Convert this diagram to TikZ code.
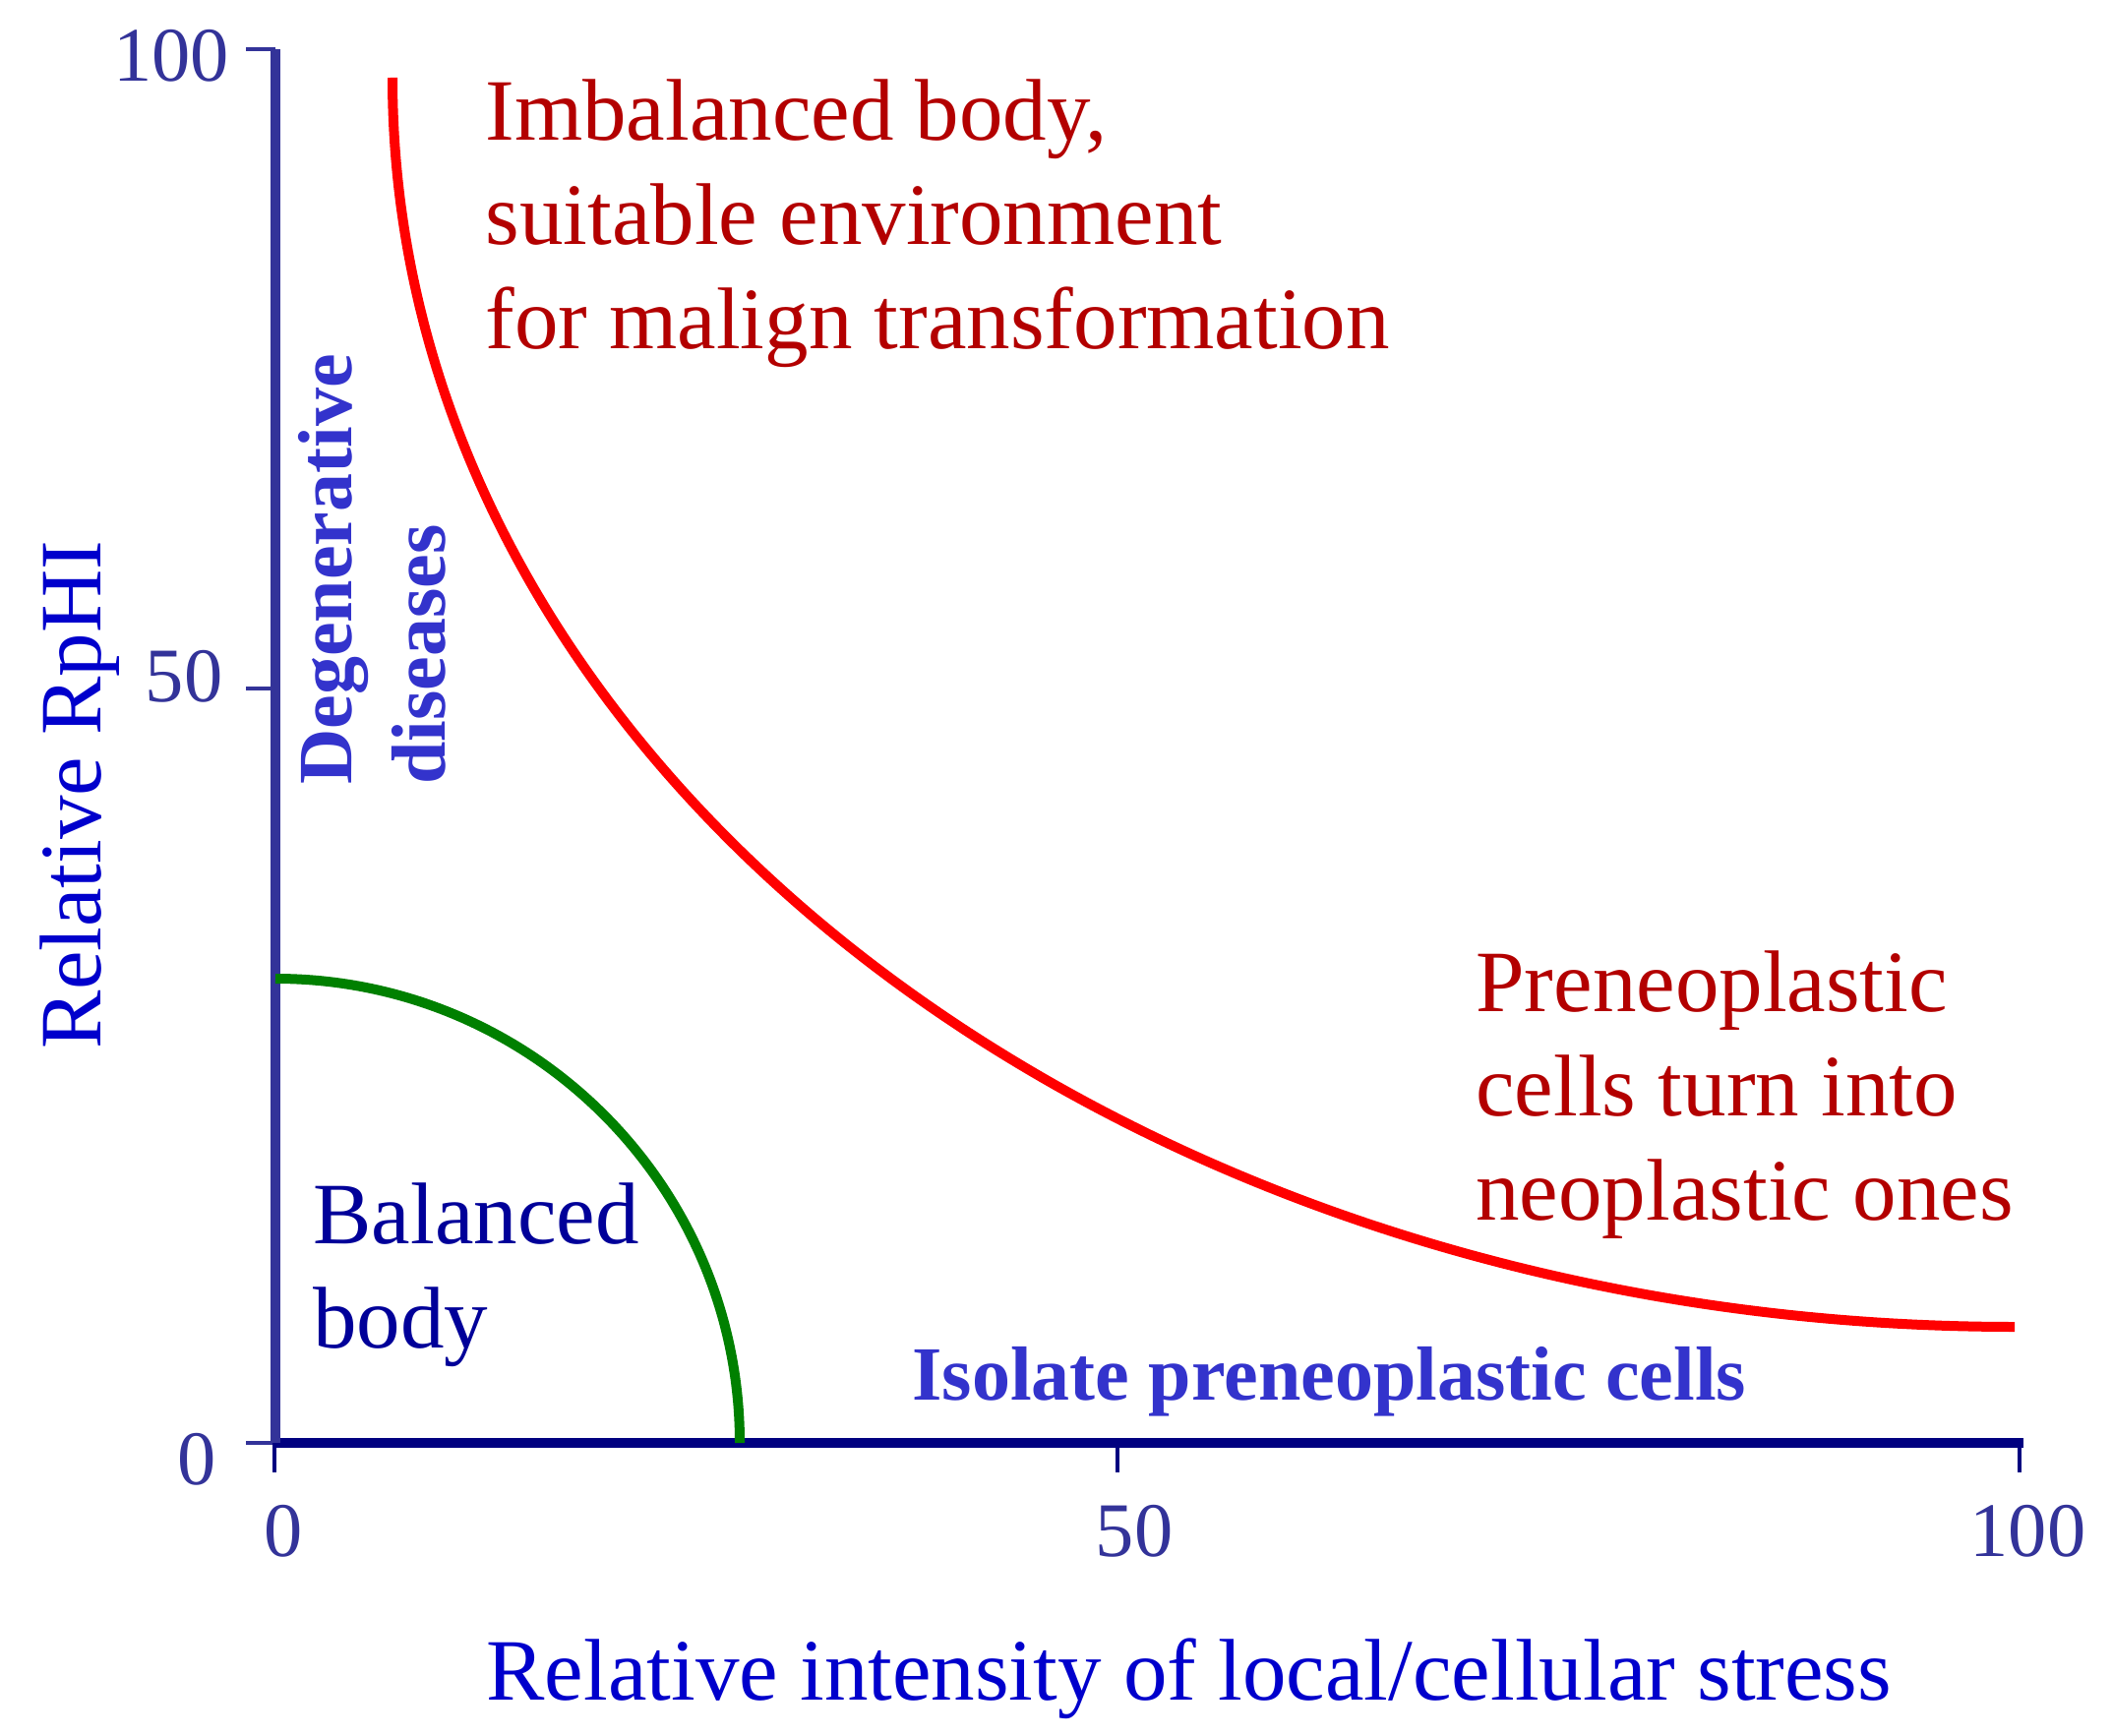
\documentclass[tikz,border=0pt]{standalone}
\usepackage{fontspec}
\setmainfont{Liberation Serif}
\definecolor{axisY}{HTML}{333399}
\definecolor{axisX}{HTML}{000080}
\definecolor{curveRed}{HTML}{FF0000}
\definecolor{textRed}{HTML}{B30000}
\definecolor{curveGreen}{HTML}{008000}
\definecolor{labelBlue}{HTML}{0000CC}
\definecolor{boldBlue}{HTML}{3333CC}
\definecolor{navyText}{HTML}{000099}
\begin{document}
\begin{tikzpicture}[x=0.5pt, y=-0.5pt,
  ticklab/.style={font=\fontsize{39.25}{47}\selectfont, text=axisY, inner sep=0, anchor=base},
  boldlab/.style={font=\fontsize{39}{47.5}\selectfont\bfseries, text=boldBlue, inner sep=0},
  region/.style={font=\fontsize{44.5}{53}\selectfont, inner sep=0, align=left},
  axisline/.style={line width=5pt},
  tickline/.style={line width=2pt},
  curve/.style={line width=5pt}
]
\useasboundingbox[fill=white] (0,0) rectangle (2147,1765);

% axes
\coordinate (O) at (280,1467);
\coordinate (Ytop) at (280,50);
\coordinate (Xend) at (2057,1467);
\draw[axisline, axisX] (O) -- (Xend);
\draw[axisline, axisY] (Ytop) -- (O);

% ticks
\draw[tickline, axisY] (250,50) -- (280,50);
\draw[tickline, axisY] (250,700) -- (280,700);
\draw[tickline, axisY] (250,1467) -- (280,1467);
\draw[tickline, axisX] (279,1467) -- (279,1497);
\draw[tickline, axisX] (1136,1467) -- (1136,1497);
\draw[tickline, axisX] (2053,1467) -- (2053,1497);

% tick labels
\node[ticklab] (y100) at (174,82.7) {100};
\node[ticklab] (y50) at (187,713) {50};
\node[ticklab] (y0) at (200,1509) {0};
\node[ticklab] (x0) at (288,1582) {0};
\node[ticklab] (x50) at (1153,1582) {50};
\node[ticklab] (x100) at (2061.5,1582) {100};

% curves
\draw[curve, curveRed] (399,79) .. controls (399,780.4) and (1137.3,1349) .. (2048,1349);
\draw[curve, curveGreen] (280,995) .. controls (540.7,995) and (752,1206.3) .. (752,1467);

% region texts (base anchor = baseline of last line)
\node[region, text=textRed, anchor=base west] (imb) at (493,355) {Imbalanced body,\\suitable environment\\for malign transformation};
\node[region, text=textRed, anchor=base west] (pre) at (1500,1240) {Preneoplastic\\cells turn into\\neoplastic ones};
\node[region, text=navyText, anchor=base west] (bal) at (318,1370) {Balanced\\body};
\node[boldlab, anchor=base west] (iso) at (927,1423) {Isolate preneoplastic cells};
\node[boldlab, rotate=90, anchor=base west, align=left] (deg) at (452,798) {Degenerative\\diseases};

% axis titles
\node[region, text=labelBlue, rotate=90, anchor=base] (ylab) at (102,808) {Relative RpHI};
\node[region, text=labelBlue, anchor=base west] (xlab) at (494,1728) {Relative intensity of local/cellular stress};
\end{tikzpicture}
\end{document}
